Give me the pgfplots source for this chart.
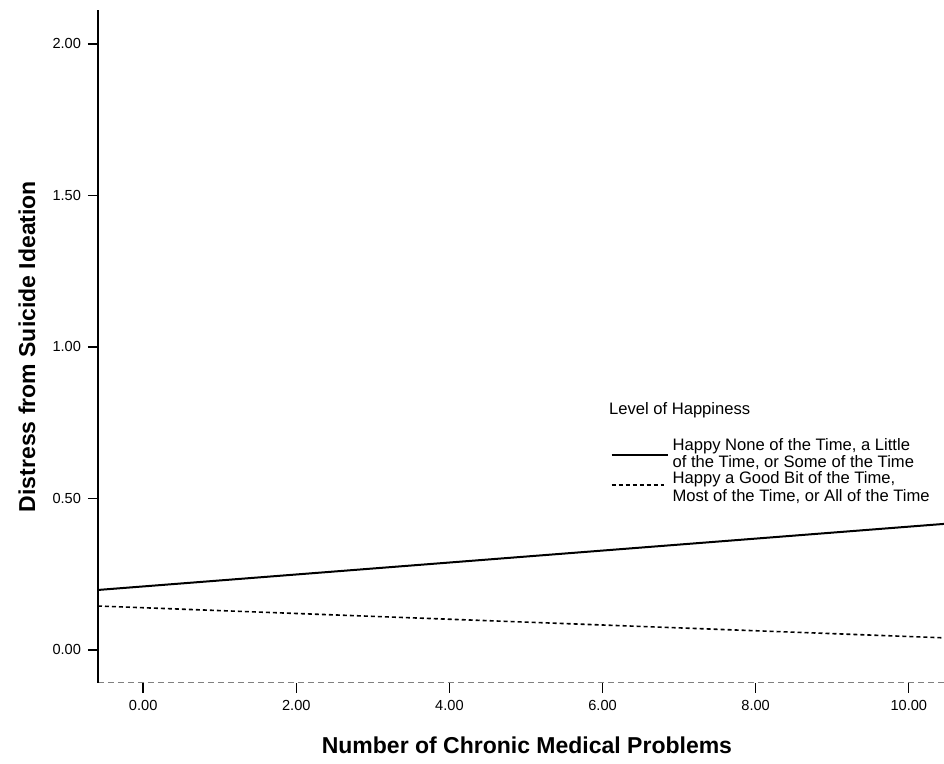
\documentclass[border=0pt]{standalone}
\usepackage{fontspec}
\setmainfont{Liberation Sans}
\usepackage{pgfplots}
\pgfplotsset{compat=1.18}
\begin{document}
\begin{tikzpicture}
\begin{axis}[
  scale only axis,
  width=423pt, height=336.5pt,
  xmin=-0.59, xmax=10.46, ymin=-0.109, ymax=2.112,
  axis lines*=left,
  x axis line style={densely dashed, gray, line width=0.5pt},
  y axis line style={line width=1.2pt, black},
  xtick={0,2,4,6,8,10},
  ytick={0,0.5,1,1.5,2},
  tick align=outside,
  major tick length=5pt,
  tick style={black, line width=0.7pt},
  /pgf/number format/assume math mode=true,
  /pgf/number format/.cd, fixed, fixed zerofill, precision=2, /pgfplots/.cd,
  ticklabel style={font=\fontsize{7.3}{8}\selectfont},
  xlabel={Number of Chronic Medical Problems},
  ylabel={Distress from Suicide Ideation},
  xlabel style={font=\bfseries\fontsize{11.5}{13}\selectfont, at={(axis description cs:0.507,-0.092)}, anchor=center},
  ylabel style={font=\bfseries\fontsize{11.5}{13}\selectfont, at={(axis description cs:-0.084,0.5)}, anchor=center},
  clip=true,
]
\addplot[black, line width=1pt] coordinates {(-0.59,0.198) (10.46,0.416)};
\addplot[black, line width=0.8pt, dash pattern=on 2pt off 1.5pt] coordinates {(-0.59,0.145) (10.46,0.040)};
\coordinate (bl) at (rel axis cs:0,0);
% legend
\node[anchor=west, inner sep=0pt, font=\fontsize{8.3}{8}\selectfont] at (axis cs:6.08,0.792) {Level of Happiness};
\draw[black, line width=0.8pt] (axis cs:6.12,0.644) -- (axis cs:6.85,0.644);
\node[anchor=north west, inner sep=0pt, align=left, font=\fontsize{8.3}{7}\selectfont] at (axis cs:6.91,0.70) {Happy None of the Time, a Little\\of the Time, or Some of the Time};
\draw[black, line width=0.7pt, dash pattern=on 2pt off 1.5pt] (axis cs:6.12,0.545) -- (axis cs:6.80,0.545);
\node[anchor=north west, inner sep=0pt, align=left, font=\fontsize{8.3}{6.6}\selectfont] at (axis cs:6.91,0.59) {Happy a Good Bit of the Time,\\Most of the Time, or All of the Time};
\end{axis}
\pgfresetboundingbox
\path ([shift={(-49pt,-40.5pt)}]bl) rectangle ([shift={(423pt,341.5pt)}]bl);
\end{tikzpicture}
\end{document}
